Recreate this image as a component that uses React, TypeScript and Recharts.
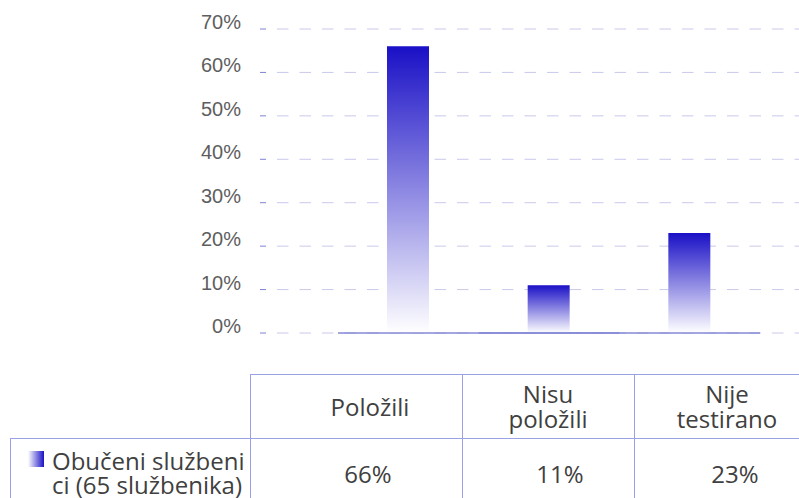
import React from 'react';
import { BarChart, Bar, XAxis, YAxis, CartesianGrid, ReferenceLine } from 'recharts';

const categories = ['Položili', 'Nisu položili', 'Nije testirano'];
const headerLines = [['Položili'], ['Nisu', 'položili'], ['Nije', 'testirano']];
const values = [66, 11, 23];
const seriesLabelLines = ['Obučeni službeni', 'ci (65 službenika)'];
const yTicks = [0, 10, 20, 30, 40, 50, 60, 70];

const data = categories.map((name, i) => ({ name, value: values[i] }));

const W = 799;
const H = 498;
const LINE = '#9ba1e6';
const TEXT = '#404040';
const TABLE_FONT = "'Open Sans', 'Noto Sans', sans-serif";
const FS = 24;

const colX = [10, 250, 462, 634, 820];
const headerTop = 374;
const rowTop = 438;
const rowH = 70;
const headerShift = [14, 0, 0];
const valueShift = [12, 12, 8];

const YTick = (props: any) => {
  const { x, y, payload } = props;
  return (
    <text
      x={x}
      y={y}
      textAnchor="end"
      fill="#5e5e5e"
      fontSize={20}
      fontFamily="'Liberation Sans', Arial, sans-serif"
    >
      {payload.value}%
    </text>
  );
};

export default function App() {
  return (
    <div style={{ position: 'absolute', left: 0, top: 0, width: W, height: H, background: '#fff', overflow: 'hidden' }}>
      <BarChart width={W} height={H} data={data} margin={{ top: 29, right: 0, bottom: 165, left: 0 }}>
        <defs>
          <linearGradient id="barGrad" x1="0" y1="0" x2="0" y2="1">
            <stop offset="0%" stopColor="#1a10c6" />
            <stop offset="100%" stopColor="#ffffff" />
          </linearGradient>
        </defs>
        <CartesianGrid vertical={false} stroke="#c9c9ec" strokeDasharray="0 11 11.5 0" />
        <XAxis dataKey="name" hide padding={{ left: 72, right: 39 }} />
        <YAxis
          width={266}
          domain={[0, 70]}
          ticks={yTicks}
          interval={0}
          axisLine={false}
          tickLine={{ stroke: '#7e82d8' }}
          tickSize={6}
          tickMargin={19}
          tick={<YTick />}
        />
        <Bar dataKey="value" fill="url(#barGrad)" barSize={42} isAnimationActive={false} />
        <ReferenceLine
          segment={[{ x: categories[0], y: 0 }, { x: categories[categories.length - 1], y: 0 }]}
          position="start"
          stroke="#8488d6"
          strokeWidth={1.5}
        />
        <ReferenceLine
          segment={[{ x: categories[0], y: 0 }, { x: categories[categories.length - 1], y: 0 }]}
          position="end"
          stroke="#8488d6"
          strokeWidth={1.5}
        />
      </BarChart>

      {/* data table */}
      <div style={{ position: 'absolute', left: colX[1], top: headerTop, width: W - colX[1], height: 0, borderTop: `1px solid ${LINE}` }} />
      <div style={{ position: 'absolute', left: colX[0], top: rowTop, width: W - colX[0], height: 0, borderTop: `1px solid ${LINE}` }} />
      <div style={{ position: 'absolute', left: colX[0], top: rowTop, width: 0, height: H - rowTop, borderLeft: `1px solid ${LINE}` }} />
      {colX.slice(1, 4).map((x, i) => (
        <div key={'v' + i} style={{ position: 'absolute', left: x, top: headerTop, width: 0, height: H - headerTop, borderLeft: `1px solid ${LINE}` }} />
      ))}

      {headerLines.map((lines, i) => (
        <div
          key={'h' + i}
          style={{
            position: 'absolute',
            left: colX[i + 1] + headerShift[i] * 2,
            top: headerTop,
            width: colX[i + 2] - colX[i + 1] - headerShift[i] * 2,
            height: rowTop - headerTop,
            display: 'flex',
            flexDirection: 'column',
            justifyContent: 'center',
            alignItems: 'center',
            fontFamily: TABLE_FONT,
            fontSize: FS,
            lineHeight: '25px',
            color: TEXT,
          }}
        >
          {lines.map((l, j) => (
            <div key={j}>{l}</div>
          ))}
        </div>
      ))}

      {values.map((v, i) => (
        <div
          key={'c' + i}
          style={{
            position: 'absolute',
            left: colX[i + 1] + valueShift[i] * 2,
            top: rowTop,
            width: colX[i + 2] - colX[i + 1] - valueShift[i] * 2,
            height: rowH,
            display: 'flex',
            justifyContent: 'center',
            alignItems: 'center',
            fontFamily: TABLE_FONT,
            fontSize: FS,
            lineHeight: '25px',
            color: TEXT,
          }}
        >
          {v}%
        </div>
      ))}

      <div
        style={{
          position: 'absolute',
          left: colX[0],
          top: rowTop,
          width: colX[1] - colX[0],
          height: rowH,
          display: 'flex',
          alignItems: 'center',
          fontFamily: TABLE_FONT,
          fontSize: FS,
          lineHeight: '24px',
          color: TEXT,
        }}
      >
        <div style={{ position: 'absolute', left: 18, top: 13, width: 16, height: 16, background: 'linear-gradient(to right, #ffffff, #1a10c6)' }} />
        <div style={{ marginLeft: 42, whiteSpace: 'nowrap' }}>
          {seriesLabelLines.map((l, j) => (
            <div key={j}>{l}</div>
          ))}
        </div>
      </div>
    </div>
  );
}
